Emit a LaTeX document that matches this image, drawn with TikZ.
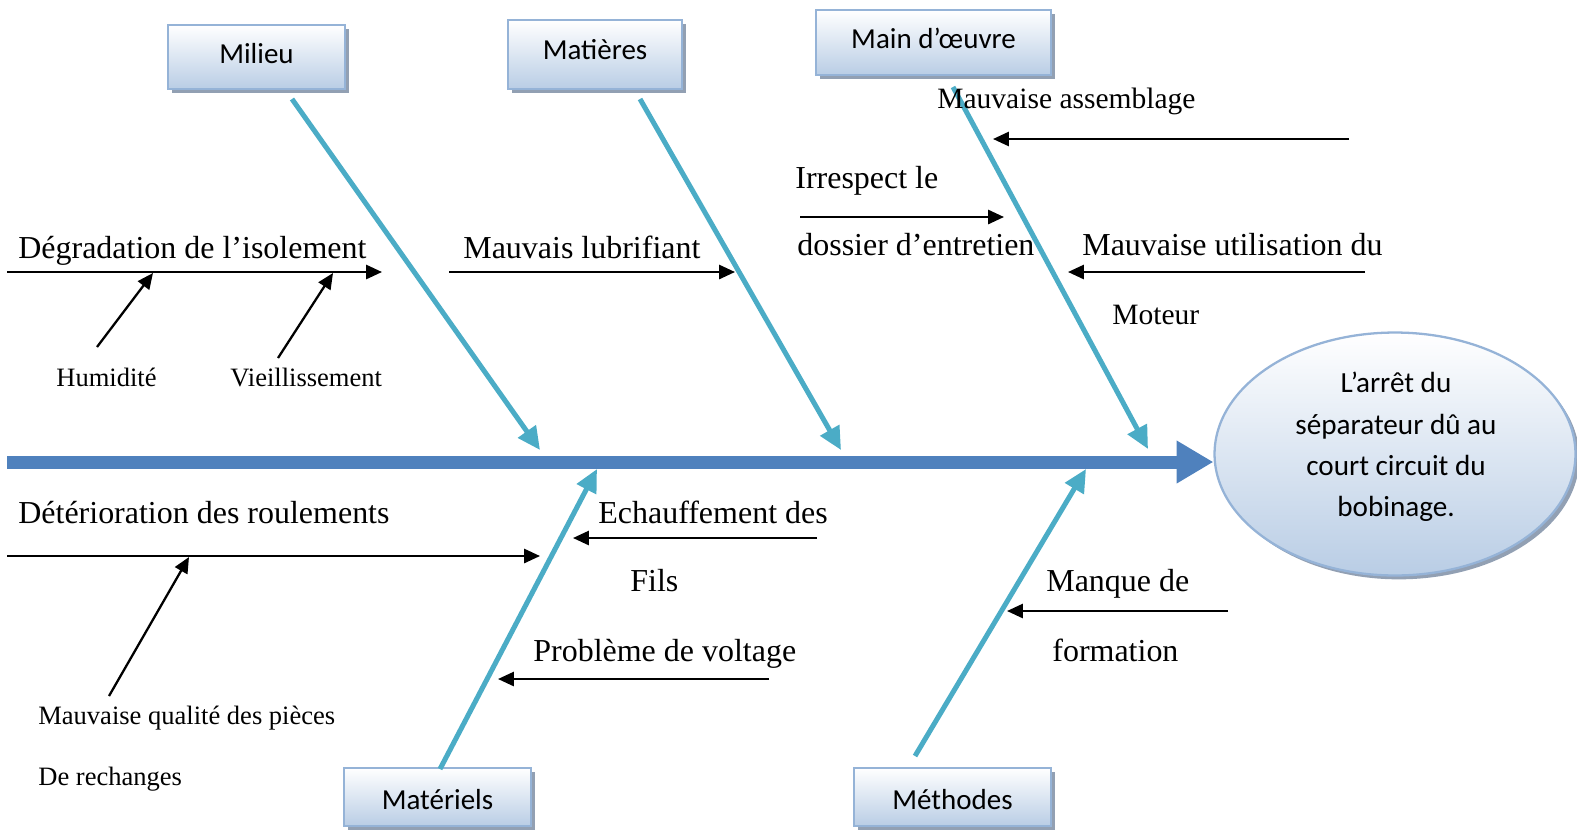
\documentclass[tikz,border=0pt]{standalone}
\usepackage{fontspec}
\setmainfont{Liberation Serif}
\newfontfamily\boxfont{Carlito}
\usetikzlibrary{arrows.meta,shapes.geometric,shadows}
\definecolor{spineblue}{HTML}{4F81BD}
\definecolor{bonecyan}{HTML}{4BACC6}
\definecolor{edgeblue}{HTML}{95B3D7}
\definecolor{fillblue}{HTML}{B9CDE5}
\definecolor{shadowgray}{HTML}{7F8FA6}
% label text shifted vertically inside its box, box size unchanged
\newcommand{\shiftlabel}[2]{\raisebox{#1}[\height][\depth]{#2}}

\begin{document}
\begin{tikzpicture}[x=0.02cm,y=-0.02cm,
  category/.style={draw=edgeblue, line width=1.1pt, top color=white, bottom color=fillblue,
    inner sep=0pt, font=\boxfont\fontsize{16.5}{20}\selectfont,
    drop shadow={shadow xshift=2.2pt, shadow yshift=-2.2pt, fill=shadowgray, opacity=0.85}},
  cause/.style={anchor=base west, inner sep=0pt, font=\fontsize{18.2}{21}\selectfont},
  causemid/.style={anchor=base west, inner sep=0pt, font=\fontsize{16.8}{20}\selectfont},
  subcause/.style={anchor=base west, inner sep=0pt, font=\fontsize{15.1}{18}\selectfont},
  bone/.style={draw=bonecyan, line width=2.85pt, -{Triangle[length=13pt,width=12pt]}},
  twig/.style={draw=black, line width=1.3pt, -{Triangle[length=9pt,width=8pt]}},
  spine/.style={draw=spineblue, line width=7.4pt, -{Triangle[length=21pt,width=23pt]}}]
\useasboundingbox (0,0) rectangle (1577,829);

% effect
\node[ellipse, draw=edgeblue, line width=1.3pt, top color=white, bottom color=fillblue,
  minimum width=7.22cm, minimum height=4.86cm, inner sep=0pt,
  drop shadow={shadow xshift=2.2pt, shadow yshift=-2.2pt, fill=shadowgray, opacity=0.85}]
  (effect) at (1395,454) {};
\node[align=center, inner sep=0pt, font=\boxfont\fontsize{16.6}{23.5}\selectfont]
  (effecttext) at (1396,447) {L’arrêt du\\séparateur dû au\\court circuit du\\bobinage.};

% spine
\coordinate (tail) at (7,462);
\draw[spine] (tail) -- (tail -| effect.west);

% category boxes
\node[category, minimum width=3.54cm, minimum height=1.28cm] (milieu) at (256.5,57) {\shiftlabel{1.8pt}{Milieu}};
\node[category, minimum width=3.48cm, minimum height=1.38cm] (matieres) at (595,54.5) {\shiftlabel{2.8pt}{Matières}};
\node[category, minimum width=4.70cm, minimum height=1.30cm] (maindoeuvre) at (933.5,42.5) {\shiftlabel{2.3pt}{Main d’œuvre}};
\node[category, minimum width=3.74cm, minimum height=1.16cm] (materiels) at (437.5,797) {\shiftlabel{-1.7pt}{Matériels}};
\node[category, minimum width=3.94cm, minimum height=1.16cm] (methodes) at (952.5,797) {\shiftlabel{-1.7pt}{Méthodes}};

% bones
\coordinate (b1s) at (292,99);   \coordinate (b1e) at (540,450);
\coordinate (b2s) at (640,99);   \coordinate (b2e) at (841,450);
\coordinate (b3s) at (953,87);   \coordinate (b3e) at (1148,449);
\coordinate (b4s) at (440,769);  \coordinate (b4e) at (597,469);
\coordinate (b5s) at (915,756);  \coordinate (b5e) at (1086,469);
\draw[bone] (b1s) -- (b1e);
\draw[bone] (b2s) -- (b2e);
\draw[bone] (b3s) -- (b3e);
\draw[bone] (b4s) -- (b4e);
\draw[bone] (b5s) -- (b5e);

% cause labels
\node[cause] (degr) at (18,258) {Dégradation de l’isolement};
\node[subcause] (humid) at (56,386) {Humidité};
\node[subcause] (vieil) at (230,386) {Vieillissement};
\node[cause] (lubri) at (463,258) {Mauvais lubrifiant};
\node[causemid] (assem) at (937,108) {Mauvaise assemblage};
\node[cause] (irres) at (795,188) {Irrespect le};
\node[cause] (dossier) at (797,255) {dossier d’entretien};
\node[cause] (utili) at (1082,255) {Mauvaise utilisation du};
\node[causemid] (moteur) at (1112,324) {Moteur};
\node[cause] (deter) at (18,523) {Détérioration des roulements};
\node[cause] (echauf) at (598,523) {Echauffement des};
\node[cause] (fils) at (630,591) {Fils};
\node[cause] (voltage) at (533,661) {Problème de voltage};
\node[subcause] (qualite) at (38,724) {Mauvaise qualité des pièces};
\node[subcause] (rechange) at (38,785) {De rechanges};
\node[cause] (manque) at (1046,591) {Manque de};
\node[cause] (formation) at (1052,661) {formation};

% cause arrows
\coordinate (t1s) at (7,272);     \coordinate (t1e) at (382,272);
\coordinate (t2s) at (97,347);    \coordinate (t2e) at (153,273);
\coordinate (t3s) at (278,358);   \coordinate (t3e) at (333,273);
\coordinate (t4s) at (449,272);   \coordinate (t4e) at (735,272);
\coordinate (t5s) at (1349,139);  \coordinate (t5e) at (993,139);
\coordinate (t6s) at (800,217);   \coordinate (t6e) at (1004,217);
\coordinate (t7s) at (1365,272);  \coordinate (t7e) at (1068,272);
\coordinate (t8s) at (7,556);     \coordinate (t8e) at (540,556);
\coordinate (t9s) at (109,696);   \coordinate (t9e) at (189,557);
\coordinate (t10s) at (817,538);  \coordinate (t10e) at (573,538);
\coordinate (t11s) at (769,679);  \coordinate (t11e) at (498,679);
\coordinate (t12s) at (1228,611); \coordinate (t12e) at (1007,611);
\foreach \i in {1,...,12} {\draw[twig] (t\i s) -- (t\i e);}
\end{tikzpicture}
\end{document}
